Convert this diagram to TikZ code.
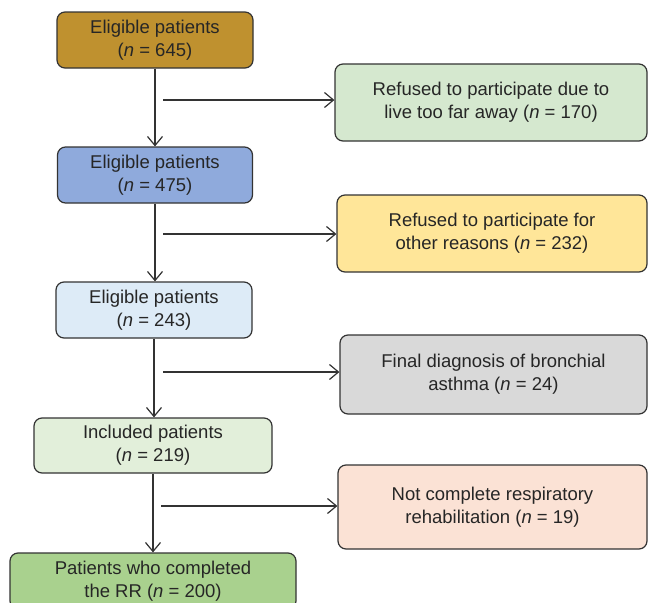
\documentclass[tikz,border=0pt]{standalone}
\usepackage{fontspec}
\setmainfont{Liberation Sans}
\usetikzlibrary{arrows.meta}
\definecolor{cgold}{HTML}{BF912F}
\definecolor{cblue}{HTML}{8FAADC}
\definecolor{clblue}{HTML}{DDEBF7}
\definecolor{clgreen}{HTML}{E2EFDA}
\definecolor{cgreen}{HTML}{A9D18E}
\definecolor{crgreen}{HTML}{D5E8CF}
\definecolor{cyellow}{HTML}{FFE699}
\definecolor{cgray}{HTML}{D9D9D9}
\definecolor{cpeach}{HTML}{FBE2D5}
\definecolor{cline}{HTML}{333333}
\definecolor{ctext}{HTML}{262626}
\tikzset{
  box/.style={draw=cline, line width=1.2pt, rounded corners=8pt, rectangle,
    align=center, inner sep=0pt, text=ctext,
    font=\fontsize{18.5}{23}\selectfont},
  arr/.style={draw=cline, line width=1.2pt, -{Straight Barb[length=9pt,width=15pt,line width=1.2pt]}}
}
\begin{document}
\begin{tikzpicture}[x=1pt,y=-1pt]
\useasboundingbox (0,0) rectangle (649,603);
\clip (0,0) rectangle (649,603);
% left column
\node[box, fill=cgold, minimum width=196, minimum height=56] (b1) at (155,40) {Eligible patients\\(\textit{n} = 645)};
\node[box, fill=cblue, minimum width=195, minimum height=56] (b2) at (155,175) {Eligible patients\\(\textit{n} = 475)};
\node[box, fill=clblue, minimum width=196, minimum height=56] (b3) at (154,310) {Eligible patients\\(\textit{n} = 243)};
\node[box, fill=clgreen, minimum width=238, minimum height=55] (b4) at (153,445.5) {Included patients\\(\textit{n} = 219)};
\node[box, fill=cgreen, minimum width=286, minimum height=56] (b5) at (153,581) {Patients who completed\\the RR (\textit{n} = 200)};
% right column
\node[box, fill=crgreen, minimum width=312, minimum height=77] (r1) at (491,102.5) {Refused to participate due to\\live too far away (\textit{n} = 170)};
\node[box, fill=cyellow, minimum width=310, minimum height=77] (r2) at (492,233.5) {Refused to participate for\\other reasons (\textit{n} = 232)};
\node[box, fill=cgray, minimum width=307, minimum height=79] (r3) at (493.5,374.5) {Final diagnosis of bronchial\\asthma (\textit{n} = 24)};
\node[box, fill=cpeach, minimum width=309, minimum height=84] (r4) at (492.5,507) {Not complete respiratory\\rehabilitation (\textit{n} = 19)};
% vertical connectors
\draw[arr] (b1.south) -- (b1.south |- b2.north);
\draw[arr] (b2.south) -- (b2.south |- b3.north);
\draw[arr] (b3.south) -- (b3.south |- b4.north);
\draw[arr] (b4.south) -- (b4.south |- b5.north);
% side connectors
\coordinate (s1) at (163,100);
\coordinate (s2) at (163,234);
\coordinate (s3) at (163,372);
\coordinate (s4) at (161,506);
\draw[arr] (s1) -- (s1 -| r1.west);
\draw[arr] (s2) -- (s2 -| r2.west);
\draw[arr] (s3) -- (s3 -| r3.west);
\draw[arr] (s4) -- (s4 -| r4.west);
\end{tikzpicture}
\end{document}
